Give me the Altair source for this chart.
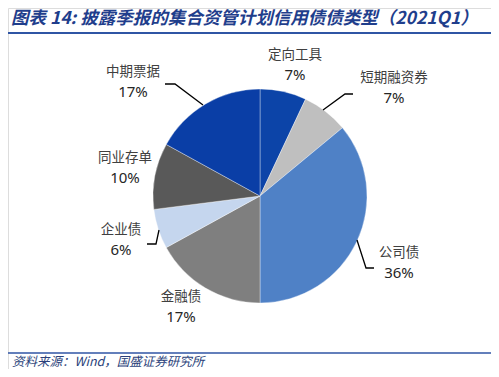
import altair as alt
import pandas as pd

# data
cats = ["定向工具", "短期融资券", "公司债", "金融债", "企业债", "同业存单", "中期票据"]
vals = [7, 7, 36, 17, 6, 10, 17]
pct_labels = ["7%", "7%", "36%", "17%", "6%", "10%", "17%"]
colors = ["#0C44A8", "#BFBFBF", "#4F81C6", "#7F7F7F", "#C5D6EE", "#595959", "#0A3EA6"]

title_text = "图表 14:  披露季报的集合资管计划信用债债类型（2021Q1）"
source_text = "资料来源：Wind，国盛证券研究所"

# layout (chart pixel coords; image coords minus 8px page margin)
label_x = [287, 386, 391, 173, 113, 117, 125]
label_y = [57, 80, 255, 299, 232, 160, 74]
leaders = [
    [(157, 76), (167, 76), (195, 97)],     # 中期票据
    [(345, 86), (337, 86), (315, 102)],    # 短期融资券
    [(349, 232), (358, 260), (366, 260)],  # 公司债
    [(139, 236), (148, 236), (151, 222)],  # 企业债
]
cx, cy, R = 252, 188, 107

pie_df = pd.DataFrame({"c": cats, "v": vals, "i": list(range(len(cats)))})
lab_df = pd.DataFrame({"c": cats, "p": pct_labels, "lx": label_x, "ly": label_y})
rows = []
for k, seg in enumerate(leaders):
    for j, (x, y) in enumerate(seg):
        rows.append({"seg": k, "o": j, "x": x, "y": y})
lead_df = pd.DataFrame(rows)

pie = alt.Chart(pie_df).mark_arc(outerRadius=R, stroke="#ffffff", strokeWidth=0.6, strokeOpacity=0.6).encode(
    theta=alt.Theta("v:Q", stack=True),
    color=alt.Color("c:N", scale=alt.Scale(domain=cats, range=colors), legend=None),
    order=alt.Order("i:Q"),
    x=alt.value(cx),
    y=alt.value(cy),
)

names = alt.Chart(lab_df).mark_text(
    font="Noto Sans CJK SC", fontSize=13.5, color="#404040", dy=-10
).encode(
    x=alt.X("lx:Q", scale=None, axis=None),
    y=alt.Y("ly:Q", scale=None, axis=None),
    text="c:N",
)
pcts = alt.Chart(lab_df).mark_text(
    font="Noto Sans", fontSize=15, color="#262626", dy=10
).encode(
    x=alt.X("lx:Q", scale=None, axis=None),
    y=alt.Y("ly:Q", scale=None, axis=None),
    text="p:N",
)

lines = alt.Chart(lead_df).mark_line(color="#000000", strokeWidth=1.3).encode(
    x=alt.X("x:Q", scale=None, axis=None),
    y=alt.Y("y:Q", scale=None, axis=None),
    detail="seg:N",
    order="o:Q",
)

title = alt.Chart(pd.DataFrame({"t": [title_text]})).mark_text(
    font="Noto Sans CJK SC", fontSize=17.5, fontStyle="italic", fontWeight="bold",
    color="#1F3E8C", align="left", baseline="middle"
).encode(x=alt.value(3), y=alt.value(11), text="t:N")

source = alt.Chart(pd.DataFrame({"t": [source_text]})).mark_text(
    font="Noto Sans CJK SC", fontSize=12.5, fontStyle="italic",
    color="#2A3F7A", align="left", baseline="middle"
).encode(x=alt.value(4), y=alt.value(354), text="t:N")

top_rule = alt.Chart(pd.DataFrame({"a": [0]})).mark_rule(color="#2F55A4", strokeWidth=2).encode(
    x=alt.value(0), x2=alt.value(483), y=alt.value(25)
)
bot_rule = alt.Chart(pd.DataFrame({"a": [0]})).mark_rule(color="#2F55A4", strokeWidth=1.5).encode(
    x=alt.value(0), x2=alt.value(483), y=alt.value(345)
)

chart = alt.layer(pie, lines, names, pcts, title, source, top_rule, bot_rule).properties(
    width=483, height=361, padding=0, autosize=alt.AutoSizeParams(type="none")
).configure_view(strokeWidth=0).configure(background="#ffffff")

chart.save("out.html", embed_options={"renderer": "svg", "actions": False})
